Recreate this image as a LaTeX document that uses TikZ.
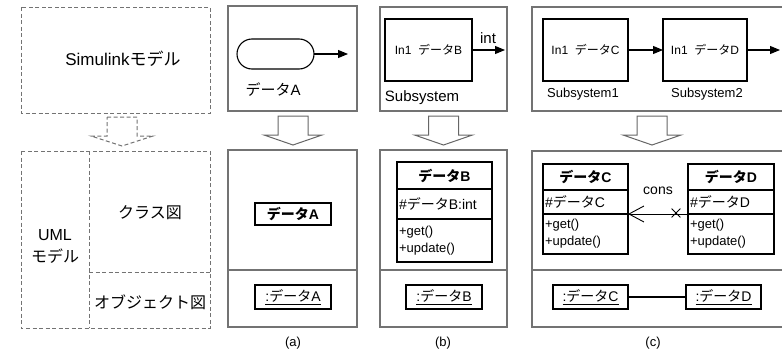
\documentclass[tikz,border=0pt]{standalone}
\usepackage{fontspec}
\setmainfont{Liberation Sans}
\newfontfamily\jp{Noto Sans CJK JP}
\usetikzlibrary{positioning, arrows.meta, shapes.misc}

\newcommand\bigf{\fontsize{16}{22}\selectfont}
\newcommand\midf{\fontsize{15}{18}\selectfont}
\newcommand\smf{\fontsize{14}{17}\selectfont}
\newcommand\opsf{\fontsize{13}{17}\selectfont}
\newcommand\tinyf{\fontsize{12}{14}\selectfont}

\begin{document}
\begin{tikzpicture}[
    x=1pt, y=-1pt,
    >={Triangle[length=10pt,width=8pt]},
    frame/.style={draw=black!55, line width=1.2pt},
    dframe/.style={draw=black!55, line width=1pt, dash pattern=on 4pt off 2.5pt},
    hollow/.style={draw=black!60, line width=1pt, fill=white},
    sig/.style={->, line width=1.1pt},
    blk/.style={draw, line width=1.1pt, outer sep=0pt, inner sep=0pt},
    lbl/.style={inner sep=0pt},
    cpart/.style={blk, inner xsep=2pt, align=left},
    cname/.style={blk, align=center, font=\smf\bfseries},
]
\useasboundingbox (0,0) rectangle (782,356);

% ---- Left: legend of the two models ----------------------------------------
\draw[dframe] (21,7) rectangle (210,113);
\node[lbl, font=\fontsize{17}{20}\selectfont] (simlbl) at (123,59) {Simulink{\jp モデル}};
\draw[dframe, fill=white] (107,117) -- (137,117) -- (137,136) -- (153,136)
    -- (122,146) -- (91,136) -- (107,136) -- cycle;
\draw[dframe] (21,151) rectangle (210,328);
\draw[dframe] (89,151) -- (89,328);
\draw[dframe] (89,272) -- (210,272);
\node[lbl, font=\bigf, align=center] (umllbl) at (55,246) {UML\\{\jp モデル}};
\node[lbl, font=\bigf] (clslbl) at (150,213) {\jp クラス図};
\node[lbl, font=\bigf] (objlbl) at (150,302) {\jp オブジェクト図};

% ---- (a) ------------------------------------------------------------------
\draw[frame] (228,6) rectangle (357,111);
\node[blk, rounded corners=15pt, minimum width=77pt, minimum height=30pt] (inA) at (275.5,54) {};
\coordinate (outA) at (348,54);
\draw[sig] (inA) -- (outA);
\node[lbl, font=\midf] (inAlbl) at (273,90) {{\jp データ}A};

\draw[frame] (228,150) rectangle (357,327);
\draw[frame] (228,270) -- (357,270);
\node[cname, minimum width=76pt, minimum height=22pt] (clsA) at (293,214) {{\jp データ}A};
\node[blk, minimum width=76pt, minimum height=24pt, font=\smf] (objA) at (293,297) {\underline{:{\jp データ}A}};
\node[lbl, font=\opsf] (capA) at (293,343) {(a)};

% ---- (b) ------------------------------------------------------------------
\draw[frame] (380,7) rectangle (507,111);
\node[blk, minimum width=87pt, minimum height=62pt, font=\tinyf] (subB) at (428.5,50) {In1\ \ {\jp データ}B};
\coordinate (outB) at (505,50);
\draw[sig] (subB) -- (outB);
\node[lbl, font=\midf] (intB) at (488,38) {int};
\node[lbl, font=\midf] (subBlbl) at (422,98) {Subsystem};

\draw[frame] (380,150) rectangle (507,327);
\draw[frame] (380,270) -- (507,270);
\node[cname, minimum width=95pt, minimum height=27pt] (clsB) at (444.5,175.5) {{\jp データ}B};
\node[cpart, text width=91pt, minimum height=30pt, font=\smf, below=0pt of clsB] (clsBattr) {\#{\jp データ}B:int};
\node[cpart, text width=91pt, minimum height=43pt, font=\opsf, below=0pt of clsBattr] (clsBops) {+get()\\+update()};
\node[blk, minimum width=76pt, minimum height=24pt, font=\smf] (objB) at (444,297) {\underline{:{\jp データ}B}};
\node[lbl, font=\opsf] (capB) at (443,343) {(b)};

% ---- (c) ------------------------------------------------------------------
\draw[frame] (782,7) -| (532,111) -- (782,111);
\node[blk, minimum width=85pt, minimum height=62pt, font=\tinyf] (subC1) at (585.5,50) {In1\ \ {\jp データ}C};
\node[blk, minimum width=84pt, minimum height=62pt, font=\tinyf] (subC2) at (705,50) {In1\ \ {\jp データ}D};
\coordinate (outC) at (780,50);
\draw[sig] (subC1) -- (subC2);
\draw[sig] (subC2) -- (outC);
\node[lbl, font=\opsf] (subC1lbl) at (583,94) {Subsystem1};
\node[lbl, font=\opsf] (subC2lbl) at (707,94) {Subsystem2};

\draw[frame] (782,151) -| (532,327) -- (782,327);
\draw[frame] (532,270) -- (782,270);
\node[cname, minimum width=85pt, minimum height=26pt] (clsC) at (585.5,177) {{\jp データ}C};
\node[cpart, text width=81pt, minimum height=24pt, font=\smf, below=0pt of clsC] (clsCattr) {\#{\jp データ}C};
\node[cpart, text width=81pt, minimum height=40pt, font=\opsf, below=0pt of clsCattr] (clsCops) {+get()\\+update()};
\node[cname, minimum width=86pt, minimum height=26pt] (clsD) at (731,177) {{\jp データ}D};
\node[cpart, text width=82pt, minimum height=24pt, font=\smf, below=0pt of clsD] (clsDattr) {\#{\jp データ}D};
\node[cpart, text width=82pt, minimum height=40pt, font=\opsf, below=0pt of clsDattr] (clsDops) {+get()\\+update()};
\draw[line width=0.9pt, -{Straight Barb[length=15pt,width=16pt]}] (clsDattr.south west) -- (clsCattr.south east);
\node[cross out, draw, line width=0.8pt, minimum size=8pt, inner sep=0pt] (navX) at (676,213) {};
\node[lbl, font=\smf] (cons) at (658,191) {cons};
\node[blk, minimum width=75pt, minimum height=24pt, font=\smf] (objC) at (590.5,297) {\underline{:{\jp データ}C}};
\node[blk, minimum width=75pt, minimum height=24pt, font=\smf] (objD) at (723.5,297) {\underline{:{\jp データ}D}};
\draw[line width=1.1pt] (objC) -- (objD);
\node[lbl, font=\opsf] (capC) at (653,343) {(c)};

% ---- hollow arrows between the two rows ------------------------------------
\foreach \cx in {293,443.5,652}
  \draw[hollow] (\cx-15,116) -- (\cx+15,116) -- (\cx+15,135) -- (\cx+29,135)
      -- (\cx,145) -- (\cx-29,135) -- (\cx-15,135) -- cycle;

\end{tikzpicture}
\end{document}
